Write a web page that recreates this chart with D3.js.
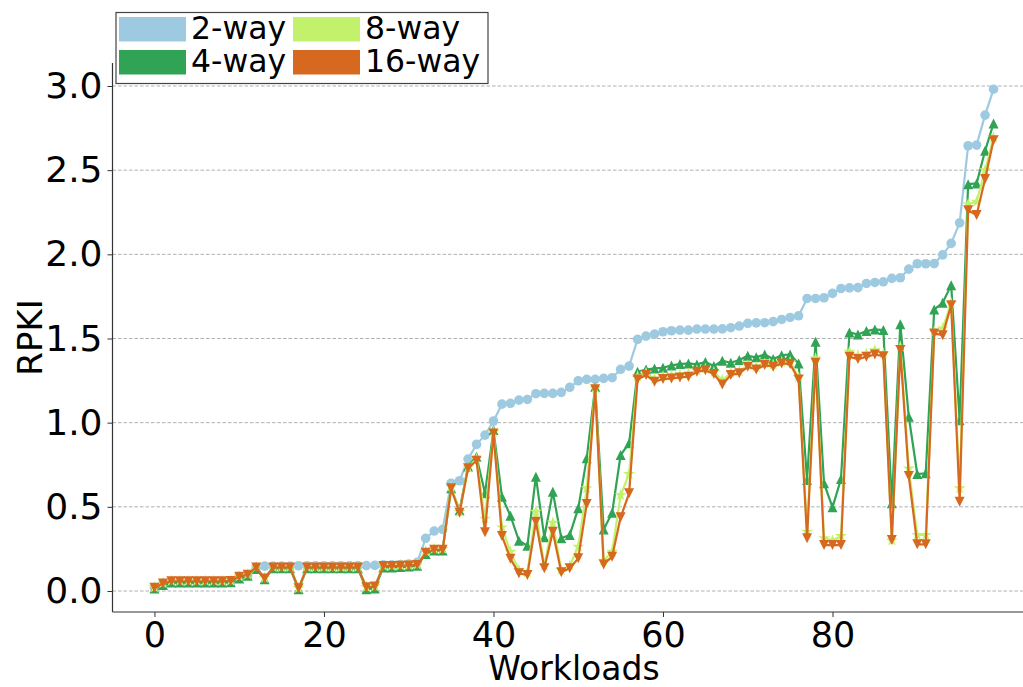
<!DOCTYPE html>
<html><head><meta charset="utf-8">
<script src="https://cdn.jsdelivr.net/npm/d3@7"></script>
<style>body{margin:0;background:#fff}svg{display:block}text{font-family:"DejaVu Sans",sans-serif}</style>
</head><body><svg id="c" width="1023" height="687"></svg>
<script>
const workloads = d3.range(100);
const seriesNames = ["2-way","4-way","8-way","16-way"];
const seriesColors = ["#9ecae1","#31a354","#c2f26b","#d6691f"];
const yTicks = [0.0,0.5,1.0,1.5,2.0,2.5,3.0];
const xTicks = [0,20,40,60,80];

const twoWay = [0.02,0.04,0.055,0.055,0.055,0.055,0.055,0.055,0.056,0.06,
0.08,0.095,0.135,0.148,0.148,0.148,0.148,0.15,0.15,0.15,
0.15,0.15,0.15,0.15,0.15,0.151,0.152,0.155,0.155,0.157,
0.16,0.17,0.313,0.356,0.366,0.64,0.655,0.784,0.871,0.926,
1.01,1.11,1.115,1.134,1.138,1.172,1.174,1.174,1.18,1.21,
1.249,1.257,1.257,1.263,1.267,1.317,1.336,1.495,1.514,1.526,
1.54,1.546,1.55,1.55,1.556,1.556,1.556,1.557,1.564,1.574,
1.59,1.593,1.594,1.6,1.613,1.625,1.635,1.738,1.738,1.742,
1.768,1.797,1.801,1.802,1.827,1.833,1.837,1.857,1.861,1.912,
1.944,1.944,1.945,1.997,2.065,2.187,2.645,2.649,2.827,2.981];

const fourWay = [0.015,0.035,0.05,0.05,0.05,0.05,0.05,0.05,0.05,0.052,
0.075,0.09,0.13,0.07,0.135,0.135,0.135,0.01,0.135,0.135,
0.135,0.135,0.135,0.135,0.135,0.01,0.015,0.14,0.14,0.142,
0.145,0.15,0.22,0.24,0.24,0.61,0.48,0.74,0.797,0.58,
0.956,0.56,0.447,0.299,0.269,0.679,0.319,0.59,0.313,0.333,
0.491,0.788,1.213,0.366,0.465,0.808,0.877,1.302,1.316,1.322,
1.326,1.34,1.348,1.352,1.346,1.36,1.336,1.368,1.356,1.372,
1.397,1.388,1.405,1.378,1.401,1.405,1.352,0.659,1.48,0.64,
0.497,0.665,1.536,1.524,1.544,1.554,1.55,0.521,1.585,1.035,
0.695,0.699,1.673,1.712,1.817,1.015,2.417,2.421,2.615,2.777];

const eightWay = [0.022,0.047,0.06,0.06,0.06,0.06,0.06,0.06,0.06,0.062,
0.087,0.099,0.142,0.078,0.142,0.142,0.142,0.018,0.142,0.142,
0.142,0.142,0.142,0.142,0.142,0.024,0.028,0.15,0.15,0.152,
0.154,0.157,0.235,0.25,0.25,0.62,0.47,0.735,0.785,0.43,
0.945,0.378,0.233,0.125,0.11,0.471,0.15,0.406,0.125,0.15,
0.263,0.61,1.205,0.18,0.233,0.57,0.695,1.275,1.295,1.26,
1.275,1.28,1.285,1.29,1.31,1.32,1.3,1.253,1.295,1.305,
1.34,1.33,1.35,1.345,1.36,1.36,1.27,0.352,1.382,0.313,
0.30,0.327,1.421,1.40,1.41,1.43,1.41,0.30,1.45,0.728,
0.333,0.333,1.54,1.56,1.71,0.61,2.298,2.312,2.5,2.694];

const sixteenWay = [0.02,0.045,0.058,0.058,0.058,0.058,0.058,0.058,0.058,0.06,
0.085,0.097,0.14,0.075,0.14,0.14,0.14,0.016,0.14,0.14,
0.14,0.14,0.14,0.14,0.14,0.022,0.026,0.148,0.148,0.15,
0.152,0.155,0.227,0.245,0.245,0.61,0.465,0.729,0.774,0.349,
0.936,0.327,0.192,0.105,0.095,0.412,0.135,0.352,0.111,0.135,
0.194,0.517,1.198,0.158,0.204,0.438,0.58,1.257,1.283,1.243,
1.259,1.263,1.269,1.273,1.302,1.312,1.289,1.227,1.283,1.293,
1.332,1.316,1.342,1.332,1.352,1.348,1.257,0.313,1.356,0.273,
0.273,0.273,1.391,1.378,1.391,1.405,1.395,0.303,1.431,0.683,
0.277,0.277,1.53,1.52,1.698,0.53,2.262,2.233,2.447,2.678];

const seriesValues = [twoWay, fourWay, eightWay, sixteenWay];

const svg = d3.select("#c");
const x = d3.scaleLinear().domain([-4.95, 103.95]).range([112.5, 1035.5]);
const y = d3.scaleLinear().domain([0, 3]).range([591, 86]);
const yTop = 63, yBot = 612, xLeft = 112.5;

// grid
svg.append("g").selectAll("line").data(yTicks).join("line")
  .attr("x1", xLeft).attr("x2", 1023)
  .attr("y1", d => y(d)).attr("y2", d => y(d))
  .attr("stroke", "#b0b0b0").attr("stroke-width", 1).attr("stroke-dasharray", "3.5,2");

// axes
const yAxis = d3.axisLeft(y).tickValues(yTicks).tickFormat(d3.format(".1f")).tickSize(5).tickPadding(5);
const gy = svg.append("g").attr("transform", `translate(${xLeft},0)`).call(yAxis);
gy.select(".domain").remove();
gy.append("line").attr("x1",0).attr("x2",0).attr("y1",yTop).attr("y2",yBot).attr("stroke","#333").attr("stroke-width",1.2);
gy.selectAll(".tick line").attr("stroke","#333");
gy.selectAll(".tick text").attr("font-size", 36).attr("fill","#000").attr("font-family","DejaVu Sans");

const xAxis = d3.axisBottom(x).tickValues(xTicks).tickSize(5).tickPadding(5);
const gx = svg.append("g").attr("transform", `translate(0,${yBot})`).call(xAxis);
gx.select(".domain").remove();
gx.append("line").attr("x1",xLeft).attr("x2",1023).attr("y1",0).attr("y2",0).attr("stroke","#333").attr("stroke-width",1.2);
gx.selectAll(".tick line").attr("stroke","#333");
gx.selectAll(".tick text").attr("font-size", 35).attr("fill","#000").attr("font-family","DejaVu Sans");

svg.append("text").attr("x", 574).attr("y", 680).attr("text-anchor","middle")
  .attr("font-size", 33).text("Workloads");
svg.append("text").attr("transform","translate(42,337.5) rotate(-90)").attr("text-anchor","middle")
  .attr("font-size", 34).text("RPKI");

// markers
const tri = (h, up) => up ? `M0,${-h}L${h},${h}L${-h},${h}Z` : `M0,${h}L${h},${-h}L${-h},${-h}Z`;
const markerPaths = [
  d3.symbol().type(d3.symbolCircle).size(Math.PI*4.8*4.8)(),
  tri(5, true),
  d3.symbol().type(d3.symbolStar).size(45)(),
  tri(5, false)
];

const line = d3.line().x((d,i) => x(workloads[i])).y(d => y(d));
seriesValues.forEach((vals, s) => {
  const g = svg.append("g");
  g.append("path").attr("d", line(vals)).attr("fill","none")
    .attr("stroke", seriesColors[s]).attr("stroke-width", 2.2).attr("stroke-linejoin","round");
  g.selectAll("path.m").data(vals).join("path").attr("class","m")
    .attr("transform", (d,i) => `translate(${x(workloads[i])},${y(d)})`)
    .attr("d", markerPaths[s]).attr("fill", seriesColors[s]);
});

// legend
const lg = svg.append("g");
lg.append("rect").attr("x",116).attr("y",12.5).attr("width",372).attr("height",71)
  .attr("fill","#fff").attr("stroke","#444").attr("stroke-width",1.2);
const legPos = [[119,17],[119,50],[293,17],[293,50]];
seriesNames.forEach((n, s) => {
  const [lx, ly] = legPos[s];
  lg.append("rect").attr("x",lx).attr("y",ly).attr("width",67).attr("height",24.5).attr("fill",seriesColors[s]);
  lg.append("text").attr("x", lx+72).attr("y", ly+22).attr("font-size",31.5).text(n);
});
</script></body></html>
